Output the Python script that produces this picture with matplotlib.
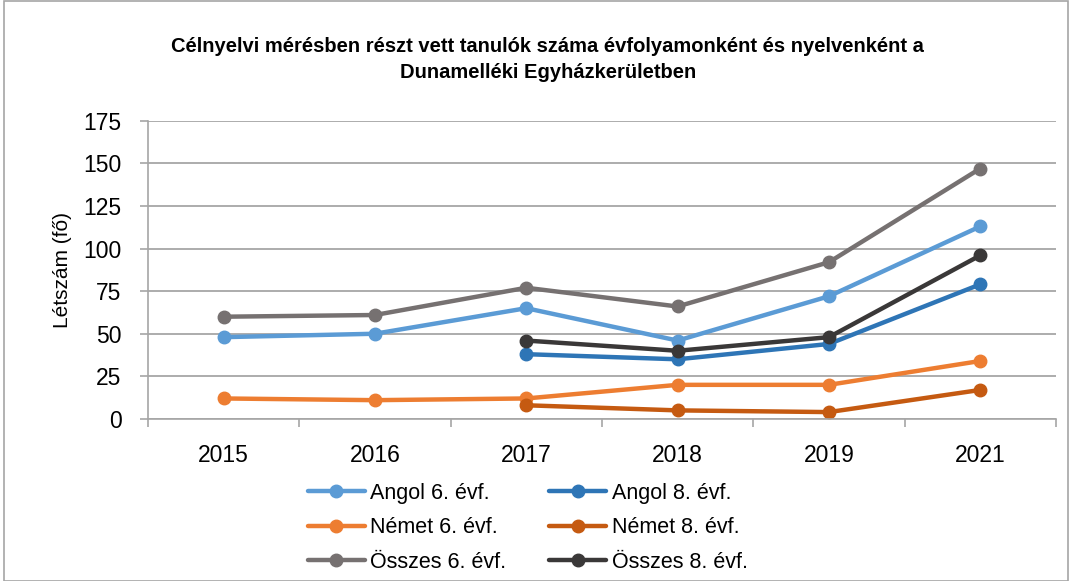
import numpy as np
import matplotlib.pyplot as plt
from matplotlib.patches import Rectangle

years = ['2015', '2016', '2017', '2018', '2019', '2021']
angol_6 = [48, 50, 65, 46, 72, 113]
angol_8 = [np.nan, np.nan, 38, 35, 44, 79]
nemet_6 = [12, 11, 12, 20, 20, 34]
nemet_8 = [np.nan, np.nan, 8, 5, 4, 17]
osszes_6 = [60, 61, 77, 66, 92, 147]
osszes_8 = [np.nan, np.nan, 46, 40, 48, 96]

plt.rcParams['font.family'] = ['Liberation Sans', 'DejaVu Sans']

fig = plt.figure(figsize=(10.72, 5.81), dpi=100)
ax = fig.add_axes([0.138, 0.279, 0.847, 0.513])

x = np.arange(len(years))
# order so that the 2-column legend reads row by row like the original
series = [
    ('Angol 6. évf.', angol_6, '#5B9BD5'),
    ('Német 6. évf.', nemet_6, '#ED7D31'),
    ('Összes 6. évf.', osszes_6, '#767171'),
    ('Angol 8. évf.', angol_8, '#2E75B6'),
    ('Német 8. évf.', nemet_8, '#C55A11'),
    ('Összes 8. évf.', osszes_8, '#3A3838'),
]
for label, vals, col in series:
    ax.plot(x, vals, color=col, lw=3.2, marker='o', ms=9, label=label,
            solid_capstyle='round')

ax.set_xlim(-0.5, len(years) - 0.5)
ax.set_ylim(0, 175)
ax.set_yticks(np.arange(0, 176, 25))
ax.set_xticks(x)
ax.set_xticklabels(years, fontsize=16.5)
ax.set_xticks(np.arange(-0.5, len(years)), minor=True)
ax.tick_params(axis='x', which='major', length=0, pad=18)
ax.tick_params(axis='x', which='minor', length=6, color='#a6a6a6', width=1.2)
ax.tick_params(axis='y', labelsize=16.5, length=6, color='#a6a6a6', width=1.2, pad=13)
ax.grid(axis='y', color='#a6a6a6', lw=1.3)
ax.set_axisbelow(True)
for s in ['top', 'right']:
    ax.spines[s].set_visible(False)
for s in ['left', 'bottom']:
    ax.spines[s].set_color('#a6a6a6')
    ax.spines[s].set_linewidth(1.2)
ax.set_ylabel('Létszám (fő)', fontsize=15, labelpad=8)

fig.text(0.511, 0.897, 'Célnyelvi mérésben részt vett tanulók száma évfolyamonként és nyelvenként a\nDunamelléki Egyházkerületben',
         ha='center', va='center', fontsize=14.5, fontweight='bold', linespacing=1.45)

ax.legend(loc='upper left', bbox_to_anchor=(0.176, -0.215), ncol=2, frameon=False,
          fontsize=15.5, handlelength=2.65, handletextpad=0.25, columnspacing=2.0,
          labelspacing=0.62, borderaxespad=0, borderpad=0)

fig.patches.append(Rectangle((0.004, 0.0), 0.992, 0.998, transform=fig.transFigure,
                             fill=False, ec='#a6a6a6', lw=1.2))

fig.savefig('out.png', dpi=100)
